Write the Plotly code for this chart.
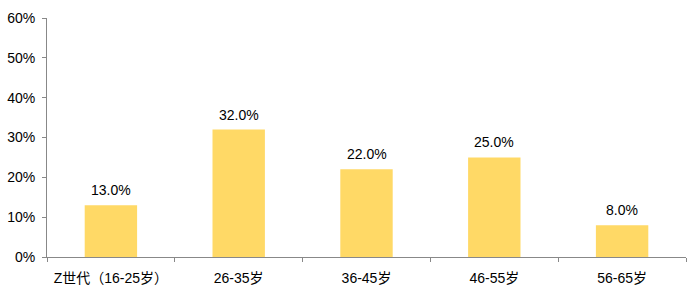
import plotly.graph_objects as go

categories = ["Z世代（16-25岁）", "26-35岁", "36-45岁", "46-55岁", "56-65岁"]
values = [0.13, 0.32, 0.22, 0.25, 0.08]
labels = ["13.0%", "32.0%", "22.0%", "25.0%", "8.0%"]

fig = go.Figure(go.Bar(
    x=categories, y=values,
    marker=dict(color="#FFD966", line=dict(width=0)), width=0.41,
))

for c, v, t in zip(categories, values, labels):
    fig.add_annotation(x=c, y=v, text=t, showarrow=False, yanchor="bottom",
                       yshift=5, font=dict(size=14, color="#000000"))

font = "Liberation Sans, Arial, Noto Sans CJK SC, sans-serif"
fig.update_layout(
    width=690, height=295,
    margin=dict(l=47, r=4, t=18, b=38),
    paper_bgcolor="white", plot_bgcolor="white",
    font=dict(family=font, size=14, color="#000000"),
    showlegend=False,
    xaxis=dict(showline=True, linecolor="#888888", linewidth=1,
               ticks="outside", tickson="boundaries", ticklen=4, tickcolor="#888888",
               showgrid=False, tickfont=dict(size=14), ticklabelstandoff=8),
    yaxis=dict(range=[0, 0.6], dtick=0.1, tickformat=".0%", showline=True,
               linecolor="#888888", linewidth=1, ticks="outside", ticklen=4,
               tickcolor="#888888", showgrid=False, zeroline=False,
               tickfont=dict(size=14), ticklabelstandoff=4),
)
fig.write_html("out.html")
